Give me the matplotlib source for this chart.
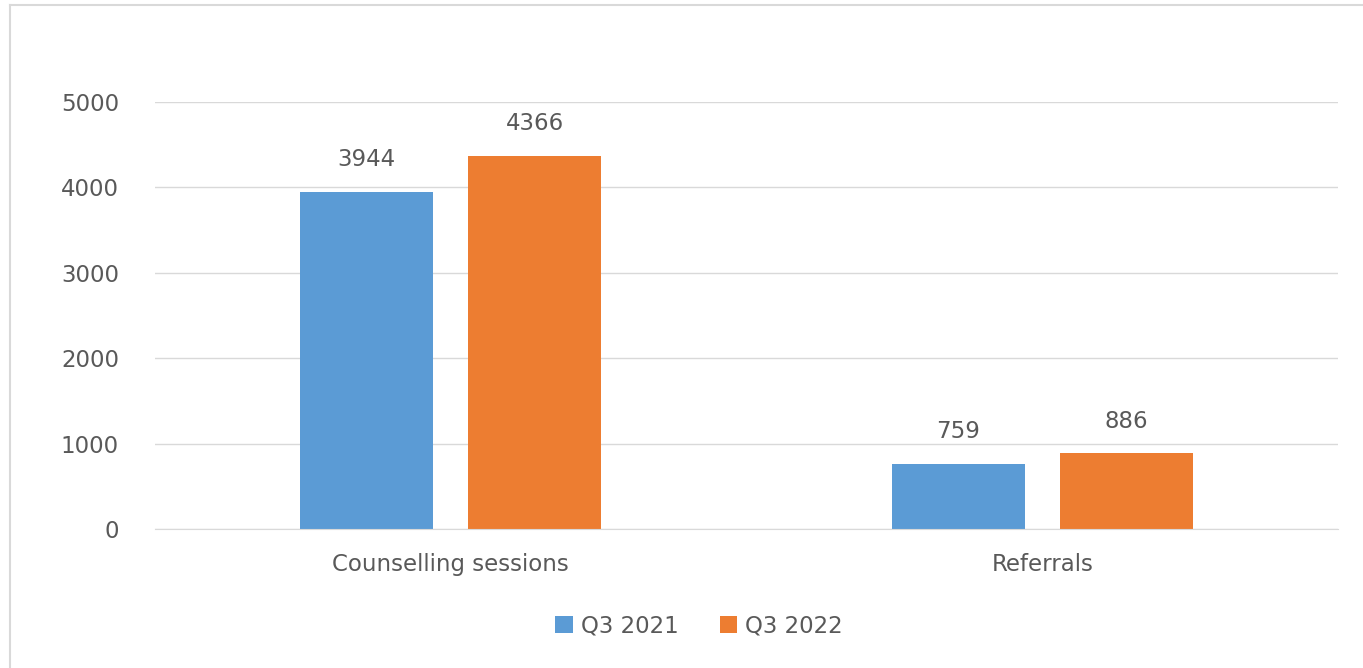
import matplotlib
matplotlib.use("Agg")
import matplotlib.pyplot as plt
import numpy as np
from matplotlib.lines import Line2D

categories = ["Counselling sessions", "Referrals"]
series_names = ["Q3 2021", "Q3 2022"]
q3_2021 = [3944, 759]
q3_2022 = [4366, 886]
yticks = [0, 1000, 2000, 3000, 4000, 5000]

colors = ["#5B9BD5", "#ED7D31"]
txt = "#595959"
fs = 16.5

fig = plt.figure(figsize=(13.63, 6.68), dpi=100)
ax = fig.add_axes([155/1363, 1-529/668, (1338-155)/1363, (529-102)/668])

x = np.arange(len(categories))
w = 0.225
off = 0.142
b1 = ax.bar(x - off, q3_2021, w, color=colors[0], label=series_names[0], zorder=3)
b2 = ax.bar(x + off, q3_2022, w, color=colors[1], label=series_names[1], zorder=3)

for bars in (b1, b2):
    for r in bars:
        ax.annotate(f"{int(r.get_height())}", (r.get_x() + r.get_width()/2, r.get_height()),
                    xytext=(0, 15), textcoords="offset points", ha="center", va="bottom",
                    fontsize=fs, color=txt)

ax.set_xlim(-0.5, 1.5)
ax.set_ylim(0, 5000)
ax.set_yticks(yticks)
ax.set_yticklabels([str(t) for t in yticks])
ax.set_xticks(x)
ax.set_xticklabels(categories)
ax.tick_params(axis="y", length=0, pad=26, labelsize=fs, labelcolor=txt)
ax.tick_params(axis="x", length=0, pad=17, labelsize=fs, labelcolor=txt)
ax.grid(axis="y", color="#D9D9D9", linewidth=1, zorder=0)
for s in ("top", "right", "left"):
    ax.spines[s].set_visible(False)
ax.spines["bottom"].set_color("#D9D9D9")
ax.spines["bottom"].set_zorder(4)

leg = fig.legend(handles=[b1, b2], labels=series_names, loc="center", bbox_to_anchor=(699/1363, 1-626/668),
                 ncol=2, frameon=False, fontsize=fs, labelcolor=txt, handlelength=0.75, handleheight=0.75,
                 handletextpad=0.35, columnspacing=1.8)

# outer chart frame
fig.add_artist(Line2D([10/1363, 10/1363], [0, 1-5/668], color="#D9D9D9", linewidth=1.5, transform=fig.transFigure))
fig.add_artist(Line2D([10/1363, 1], [1-5/668, 1-5/668], color="#D9D9D9", linewidth=1.5, transform=fig.transFigure))

fig.savefig("out.png", dpi=100)
